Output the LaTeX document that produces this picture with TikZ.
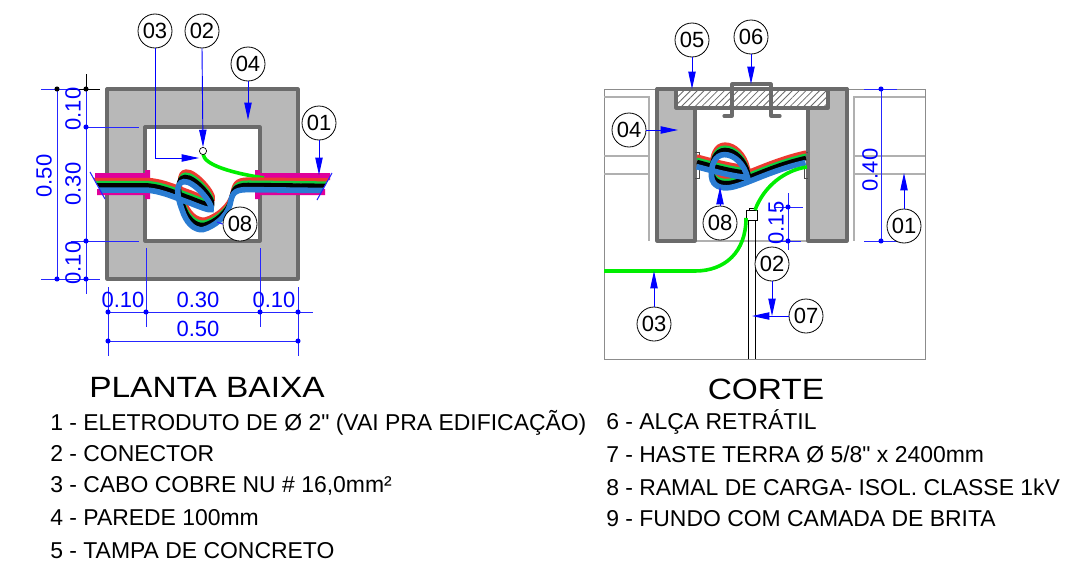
\documentclass[tikz,border=0pt]{standalone}
\usepackage{fontspec}
\setmainfont{Liberation Sans}[Ligatures=TeXOff]
\newfontfamily\titlefont[FakeStretch=1.14]{Liberation Sans}
\usetikzlibrary{arrows.meta,patterns.meta}
\definecolor{wallfill}{HTML}{B8B8B8}
\definecolor{wallline}{HTML}{6B6B6B}
\definecolor{framegray}{HTML}{8C8C8C}
\definecolor{soilgray}{HTML}{B0B0B0}
\definecolor{dimblue}{HTML}{0000FF}
\definecolor{conduit}{HTML}{E0009A}
\definecolor{wiregreen}{HTML}{00EE00}
\definecolor{cblred}{HTML}{EE3A30}
\definecolor{cblgreen}{HTML}{10D040}
\definecolor{cblblue}{HTML}{2A7CD2}
\tikzset{
  wall/.style={draw=wallline,fill=wallfill,line width=2.4pt,line join=round},
  innerwall/.style={draw=wallline,fill=white,line width=2.4pt,line join=round},
  wallstroke/.style={draw=wallline,line width=2.4pt,line join=round,line cap=round},
  callout/.style={circle,draw=black,fill=white,line width=0.6pt,minimum size=25.5pt,inner sep=0pt,font=\fontsize{16.5}{17}\selectfont},
  leader/.style={draw=dimblue,line width=0.7pt,-{Triangle[length=13pt,width=5.5pt,fill=dimblue]}},
  dimline/.style={draw=dimblue!85!white,line width=0.7pt},
  dimdot/.style={circle,fill=dimblue,inner sep=0pt,minimum size=3.8pt},
  blackdot/.style={circle,fill=black,inner sep=0pt,minimum size=3.8pt},
  dimtext/.style={text=dimblue,font=\fontsize{16.5}{17}\selectfont,inner sep=0pt},
  caption/.style={anchor=west,inner sep=0pt,font=\fontsize{17.2}{18}\selectfont},
  titletext/.style={inner sep=0pt,font=\titlefont\fontsize{22}{24}\selectfont},
  soil/.style={draw=soilgray,line width=0.8pt},
  frameline/.style={draw=framegray,line width=0.7pt},
  wire/.style={draw=wiregreen,line width=2.7pt},
  rodline/.style={draw=black,line width=0.7pt},
  bandred/.style={draw=cblred,line width=2.8pt},
  bandgreen/.style={draw=cblgreen,line width=2pt},
  bandblack/.style={draw=black,line width=3.4pt},
  bandblue/.style={draw=cblblue,line width=4.2pt}
}
\def\plancable{(90,185.5) -- (148,185.5) .. controls (165,187) and (178,194) .. (190,198) .. controls (200,202) and (210,206) .. (212,205) .. controls (215,200) and (195,176) .. (185,177) .. controls (176,178) and (178,192) .. (183,205) .. controls (187,218) and (195,226) .. (204,225) .. controls (215,222) and (228,212) .. (231,200) .. controls (233,190) and (234,185) .. (248,185) -- (335,186)}
\def\cutcable{(697,162) .. controls (712,166) and (730,171) .. (748,173) .. controls (745,160) and (735,150) .. (725,150) .. controls (715,150) and (711,162) .. (712,172) .. controls (713,182) and (722,184) .. (730,183) .. controls (745,181) and (770,166) .. (806,158)}
\begin{document}
\begin{tikzpicture}[x=0.75pt,y=-0.75pt]
\useasboundingbox (0,0) rectangle (1081,564);
% ---------- PLAN
\draw[wall] (107,89) rectangle (298,279);
\draw[innerwall] (145,127) rectangle (260,241);
\fill[conduit] (95,173) rectangle (150,180) (145,170) rectangle (150,199) (97,189) rectangle (150,195);
\fill[conduit] (255,170) rectangle (260,199) (255,173) rectangle (330,180) (255,189) rectangle (325,195);
\coordinate (wireA) at (203,154);
\coordinate (wireB) at (264,178);
\draw[wire] (wireA) .. controls (204,165) and (232,173) .. (wireB);
\coordinate (t0802) at (217,222);
\begin{scope}
\clip (90,172) -- (105,198) -- (105,240) -- (317,240) -- (317,199) -- (332,173) -- (332,160) -- (90,160) -- cycle;
\draw[bandred,shift={(1,-5.8)}] \plancable;
\draw[bandgreen,shift={(0.5,-3.2)}] \plancable;
\draw[bandblack] \plancable;
\draw[bandblue,shift={(-1,4.6)}] \plancable;
\end{scope}
\node[circle,draw=black,fill=white,line width=0.5pt,minimum size=5.4pt,inner sep=0pt] (conn) at (203,151) {};
\draw[dimline,line width=0.8pt] (90,172) -- (105,199) (332,173) -- (317,200);
% plan dimensions
\draw[draw=black,line width=0.6pt] (86,74) -- (86,89) -- (100,89) (70,89) -- (86,89);
\draw[dimline] (41,89) -- (70,89);
\draw[dimline] (57,89) -- (57,279);
\draw[dimline] (86,89) -- (86,294);
\draw[dimline] (86,127) -- (139,127);
\draw[dimline] (71,241) -- (139,241);
\draw[dimline] (41,279) -- (100,279);
\draw[dimline] (107,312) -- (313,312);
\draw[dimline] (108,341) -- (298,341);
\draw[dimline] (108,287) -- (108,356);
\draw[dimline] (146,248) -- (146,327);
\draw[dimline] (260,248) -- (260,327);
\draw[dimline] (298,287) -- (298,356);
\node[blackdot] (da) at (57,89) {};
\node[blackdot] (db) at (86,89) {};
\foreach \n/\p in {dc/{86,127},dd/{86,241},de/{57,279},df/{86,279},dg/{108,312},dh/{146,312},di/{260,312},dj/{298,312},dk/{108,341},dl/{298,341}}
  \node[dimdot] (\n) at (\p) {};
\node[dimtext,rotate=90] (v1) at (73,109) {0.10};
\node[dimtext,rotate=90] (v2) at (73,184) {0.30};
\node[dimtext,rotate=90] (v3) at (73,263) {0.10};
\node[dimtext,rotate=90] (v4) at (44,176) {0.50};
\node[dimtext] (h1) at (123,300) {0.10};
\node[dimtext] (h2) at (198,300) {0.30};
\node[dimtext] (h3) at (274,300) {0.10};
\node[dimtext] (h4) at (198,329) {0.50};
% plan callouts
\node[callout] (p03) at (155,31) {03};
\node[callout] (p02) at (202,31) {02};
\node[callout] (p04) at (248,64) {04};
\node[callout] (p01) at (319,123) {01};
\coordinate (tp03) at (199,158);
\coordinate (tp04) at (248,120);
\coordinate (tp01) at (319,175);
\draw[leader] (p03.south) |- (tp03);
\draw[leader] (p02.south) -- (conn.north);
\draw[leader] (p04.south) -- (tp04);
\draw[leader] (p01.south) -- (tp01);
\node[callout] (p08) at (240,224) {08};
\draw[dimline,line width=0.8pt] (p08.west) -- (t0802);
% ---------- SECTION
\draw[frameline] (604,89) rectangle (925,359);
\draw[soil] (604,97) -- (649,97) -- (649,241);
\draw[soil] (604,156) -- (649,156) (604,174) -- (649,174);
\draw[soil] (925,97) -- (854,97) -- (854,241);
\draw[soil] (854,156) -- (925,156) (854,174) -- (925,174);
\draw[soil] (695,241) -- (808,241);
\draw[wall] (657,89) rectangle (695,241);
\draw[wall] (808,89) rectangle (847,241);
\draw[wallstroke] (657,89) -- (847,89);
\fill[white] (676,89) rectangle (828,108);
\fill[pattern={Lines[angle=45,distance=3.6pt,line width=0.6pt]},pattern color=wallline] (676,89) rectangle (828,108);
\draw[wallstroke] (676,89) rectangle (828,108);
\draw[wallstroke,fill=none] (724,116) -- (732,116) -- (732,84) -- (771,84) -- (771,116) -- (780,116);
\draw[draw=black!70,line width=0.5pt] (695,152) -- (699,152) -- (699,178) -- (695,178);
\draw[draw=black!70,line width=0.5pt] (808,152) -- (804,152) -- (804,178) -- (808,178);
\coordinate (wireC) at (807,167);
\coordinate (wireD) at (755,210);
\coordinate (wireE) at (604,271);
\coordinate (wireF) at (746,218);
% cable section
\draw[bandred,shift={(0,-5.8)}] \cutcable;
\draw[bandgreen,shift={(0,-3.2)}] \cutcable;
\draw[bandblack] \cutcable;
\draw[bandblue,shift={(-0.5,4.6)}] \cutcable;
% rod + connector
\draw[rodline] (748.5,220) -- (748.5,359) (755,220) -- (755,359);
\draw[rodline,fill=white] (749,208) rectangle (755,211);
\node[draw=black,line width=0.7pt,fill=white,minimum width=8.2pt,minimum height=6.9pt,inner sep=0pt] (clamp) at (751.5,215.5) {};
\draw[wire] (wireC) .. controls (785,170) and (764,186) .. (wireD);
\draw[wire] (wireE) -- (695,271) .. controls (725,271) and (746,252) .. (wireF);
% section dimensions
\draw[dimline] (864,89) -- (897,89) (881,89) -- (881,241) (864,241) -- (905,241);
\draw[dimline] (788,193) -- (788,250) (775,207) -- (803,207) (770,241) -- (801,241);
\foreach \n/\p in {ea/{881,89},eb/{881,241},ec/{788,207},ed/{788,241}}
  \node[dimdot] (\n) at (\p) {};
\node[dimtext,rotate=90] (v5) at (870,170) {0.40};
\node[dimtext,rotate=90] (v6) at (776,223) {0.15};
% section callouts
\node[callout] (s05) at (692,40) {05};
\node[callout] (s06) at (751,37) {06};
\node[callout] (s04) at (629,130) {04};
\node[callout] (s08) at (720,223) {08};
\node[callout] (s01) at (904,226) {01};
\node[callout] (s02) at (772,264) {02};
\node[callout] (s07) at (806,316) {07};
\node[callout] (s03) at (654,324) {03};
\coordinate (ts05) at (692,89);
\coordinate (ts06) at (751,84);
\coordinate (ts04) at (678,130);
\coordinate (ts08) at (720,187);
\coordinate (ts01) at (904,173);
\coordinate (ts02) at (772,316);
\coordinate (ts07) at (752,316);
\coordinate (ts03) at (654,271);
\draw[leader] (s05.south) -- (ts05);
\draw[leader] (s06.south) -- (ts06);
\draw[leader] (s04.east) -- (ts04);
\draw[leader] (s08.north) -- (ts08);
\draw[leader] (s01.north) -- (ts01);
\draw[leader] (s02.south) -- (ts02);
\draw[leader] (s07.west) -- (ts07);
\draw[leader] (s03.north) -- (ts03);
% ---------- TEXTS
\node[titletext] (t1) at (207,387) {PLANTA BAIXA};
\node[titletext] (t2) at (766,389) {CORTE};
\node[caption] (l1) at (50,423) {1 - ELETRODUTO DE Ø 2" (VAI PRA EDIFICAÇÃO)};
\node[caption] (l2) at (50,454) {2 - CONECTOR};
\node[caption] (l3) at (50,486) {3 - CABO COBRE NU \# 16,0mm²};
\node[caption] (l4) at (50,518) {4 - PAREDE 100mm};
\node[caption] (l5) at (50,551) {5 - TAMPA DE CONCRETO};
\node[caption] (l6) at (606,422) {6 - ALÇA RETRÁTIL};
\node[caption] (l7) at (606,454) {7 - HASTE TERRA Ø 5/8" x 2400mm};
\node[caption] (l8) at (606,487) {8 - RAMAL DE CARGA- ISOL. CLASSE 1kV};
\node[caption] (l9) at (606,519) {9 - FUNDO COM CAMADA DE BRITA};
\end{tikzpicture}
\end{document}
